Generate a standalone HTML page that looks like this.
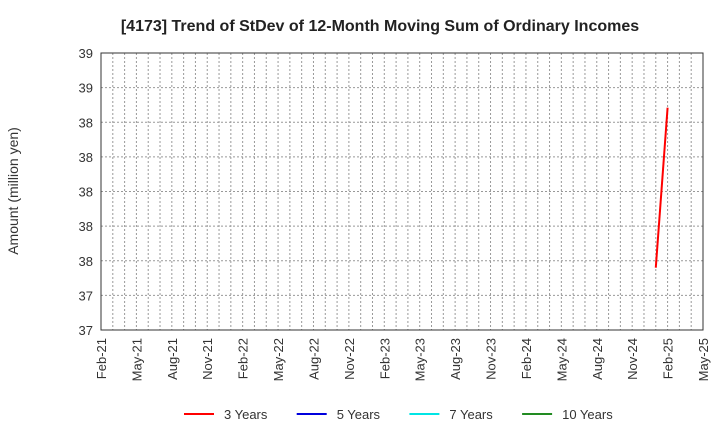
<!DOCTYPE html>
<html><head><meta charset="utf-8"><style>
body{margin:0;background:#fff;font-family:"Liberation Sans",Arial,sans-serif}
svg text{font-family:"Liberation Sans",Arial,sans-serif}
</style></head><body>
<svg id="c" width="720" height="440" xmlns="http://www.w3.org/2000/svg">
<text x="380" y="31" text-anchor="middle" font-size="16" font-weight="bold" fill="#222">[4173]  Trend of StDev of 12-Month Moving Sum of Ordinary Incomes</text>
<text transform="translate(18,191) rotate(-90)" text-anchor="middle" font-size="14" fill="#333">Amount (million yen)</text>
<g id="grid"></g>
<g id="axes"></g>
<g id="series"></g>
<g id="legend"></g>
</svg>
<script>
const xTickLabels=["Feb-21","May-21","Aug-21","Nov-21","Feb-22","May-22","Aug-22","Nov-22","Feb-23","May-23","Aug-23","Nov-23","Feb-24","May-24","Aug-24","Nov-24","Feb-25","May-25"];
const yTickLabels=["37","37","38","38","38","38","38","39","39"];
const series3Months=[47,48];
const series3Values=[37.45,38.605];
const legendNames=["3 Years","5 Years","7 Years","10 Years"];
const legendColors=["#ff0000","#0000dd","#00e5e5","#228b22"];

const L=101,R=703,T=53,B=330,yMin=37,yMax=39,nMonths=51;
const xs=m=>L+(R-L)*m/nMonths;
const ys=v=>B-(B-T)*(v-yMin)/(yMax-yMin);
const NS="http://www.w3.org/2000/svg";
function mk(tag,at,parent){const e=document.createElementNS(NS,tag);for(const k in at)e.setAttribute(k,at[k]);parent.appendChild(e);return e;}
const grid=document.getElementById('grid'),axes=document.getElementById('axes'),ser=document.getElementById('series'),leg=document.getElementById('legend');
for(let m=1;m<nMonths;m++){const l=mk('line',{x1:xs(m),x2:xs(m),y1:T,y2:B,stroke:'#999','stroke-dasharray':'2,2','stroke-width':1},grid);

}
yTickLabels.forEach((t,i)=>{const v=yMin+i*(yMax-yMin)/(yTickLabels.length-1);const y=ys(v);
if(i>0&&i<yTickLabels.length-1){const g=mk('line',{x1:L,x2:R,y1:y,y2:y,stroke:'#999','stroke-dasharray':'2,2'},grid);

}
const tx=mk('text',{x:93,y:y+5,'text-anchor':'end','font-size':13,fill:'#333'},axes);tx.textContent=t;

});
const fr=mk('rect',{x:L,y:T,width:R-L,height:B-T,fill:'none',stroke:'#333','stroke-width':1},axes);


xTickLabels.forEach((t,i)=>{const x=xs(i*3);const tx=mk('text',{transform:`translate(${x+5},338) rotate(-90)`,'text-anchor':'end','font-size':13,fill:'#333'},axes);tx.textContent=t;

});
const pts=series3Months.map((m,i)=>xs(m)+','+ys(series3Values[i])).join(' ');
const pl=mk('polyline',{points:pts,fill:'none',stroke:'#ff0000','stroke-width':2},ser);


legendNames.forEach((n,i)=>{const x0=184+i*112.7;
const g=mk('g',{},leg);


mk('line',{x1:x0,x2:x0+30,y1:414,y2:414,stroke:legendColors[i],'stroke-width':2},g);
const tx=mk('text',{x:x0+40,y:419,'font-size':13,fill:'#333'},g);tx.textContent=n;});
</script>
</body></html>
